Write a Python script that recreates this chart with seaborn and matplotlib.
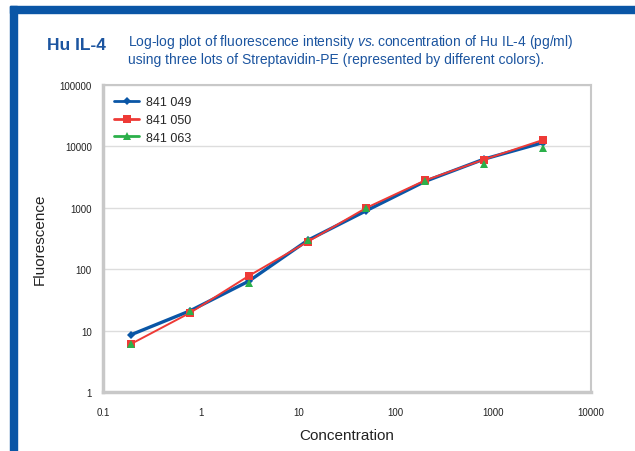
import numpy as np
import pandas as pd
import seaborn as sns
import matplotlib.pyplot as plt
from matplotlib.lines import Line2D
from matplotlib.patches import Rectangle
from matplotlib.ticker import FixedLocator, NullLocator

# Data (4-fold dilution series)
concentration = [0.195, 0.78, 3.125, 12.5, 50, 200, 800, 3200]
lot_049 = [8.6, 21, 64, 295, 900, 2700, 6200, 11500]
lot_050 = [6.1, 19.5, 78, 280, 1000, 2800, 6100, 12700]
lot_063 = [6.1, 20.5, 60, 300, 1000, 2750, 5100, 9400]

lots = ["841 049", "841 050", "841 063"]
colors = ["#0a56a6", "#ee3a36", "#2bb04a"]
markers = ["D", "s", "^"]

x_ticks = [0.1, 1, 10, 100, 1000, 10000]
x_labels = ["0.1", "1", "10", "100", "1000", "10000"]
y_ticks = [1, 10, 100, 1000, 10000, 100000]
y_labels = ["1", "10", "100", "1000", "10000", "100000"]

df = pd.DataFrame({
    "concentration": concentration * 3,
    "fluorescence": lot_049 + lot_050 + lot_063,
    "lot": [lots[0]] * 8 + [lots[1]] * 8 + [lots[2]] * 8,
})

sns.set_style("white")
plt.rcParams["font.family"] = ["Liberation Sans", "DejaVu Sans"]
plt.rcParams["mathtext.fontset"] = "custom"
plt.rcParams["mathtext.it"] = "Liberation Sans:italic"
plt.rcParams["mathtext.rm"] = "Liberation Sans"

fig = plt.figure(figsize=(6.35, 4.52), dpi=100)
ax = fig.add_axes([103 / 635, 59 / 452, 488 / 635, 307 / 452])

line_widths = [2.4, 1.4, 0]
marker_sizes = [4.5, 6, 6]
for lot, c, m, lw, ms in zip(lots, colors, markers, line_widths, marker_sizes):
    sub = df[df["lot"] == lot]
    sns.lineplot(data=sub, x="concentration", y="fluorescence", ax=ax,
                 color=c, marker=m, markersize=ms, linewidth=lw,
                 markeredgewidth=0, legend=False)

ax.set_xscale("log")
ax.set_yscale("log")
ax.set_xlim(0.1, 10000)
ax.set_ylim(1, 100000)
ax.xaxis.set_major_locator(FixedLocator(x_ticks))
ax.yaxis.set_major_locator(FixedLocator(y_ticks))
ax.xaxis.set_minor_locator(NullLocator())
ax.yaxis.set_minor_locator(NullLocator())
ax.set_xticklabels(x_labels, fontsize=7)
ax.set_yticklabels(y_labels, fontsize=7)
ax.tick_params(axis="both", length=3, width=0.8, color="#bbbbbb",
               direction="out", labelcolor="#222222")
ax.tick_params(axis="x", pad=8)
ax.tick_params(axis="y", pad=5)
ax.yaxis.grid(True, color="#dddddd", linewidth=1)

for side in ["top", "right"]:
    ax.spines[side].set_color("#c8c8c8")
    ax.spines[side].set_linewidth(1.5)
for side in ["left", "bottom"]:
    ax.spines[side].set_color("#c8c8c8")
    ax.spines[side].set_linewidth(2.5)

ax.set_xlabel("Concentration", fontsize=11, color="#222222", labelpad=8)
ax.set_ylabel("Fluorescence", fontsize=11, color="#222222", labelpad=9)

handles = [Line2D([0], [0], color=c, marker=m, markersize=ms, linewidth=2,
                  markeredgewidth=0)
           for c, m, ms in zip(colors, markers, [4.5, 6, 6])]
ax.legend(handles, lots, loc="upper left", frameon=False, fontsize=9,
          handlelength=2.0, handletextpad=0.5, labelspacing=0.45,
          borderaxespad=0.5)

# blue frame at top and left
fig.patches.append(Rectangle((10 / 635, 0), 7 / 635, 445 / 452,
                             transform=fig.transFigure, color="#0a56a6"))
fig.patches.append(Rectangle((10 / 635, 438 / 452), 625 / 635, 7 / 452,
                             transform=fig.transFigure, color="#0a56a6"))

fig.text(47 / 635, 1 - 45 / 452, "Hu IL-4", fontsize=12.5, fontweight="bold",
         color="#1c55a0", va="center")
fig.text(128 / 635, 1 - 42 / 452,
         "Log-log plot of fluorescence intensity $\\it{vs.}$concentration of Hu IL-4 (pg/ml)",
         fontsize=10, color="#1c55a0", va="center")
fig.text(128 / 635, 1 - 60 / 452,
         "using three lots of Streptavidin-PE (represented by different colors).",
         fontsize=10, color="#1c55a0", va="center")

fig.savefig("out.png", dpi=100)
